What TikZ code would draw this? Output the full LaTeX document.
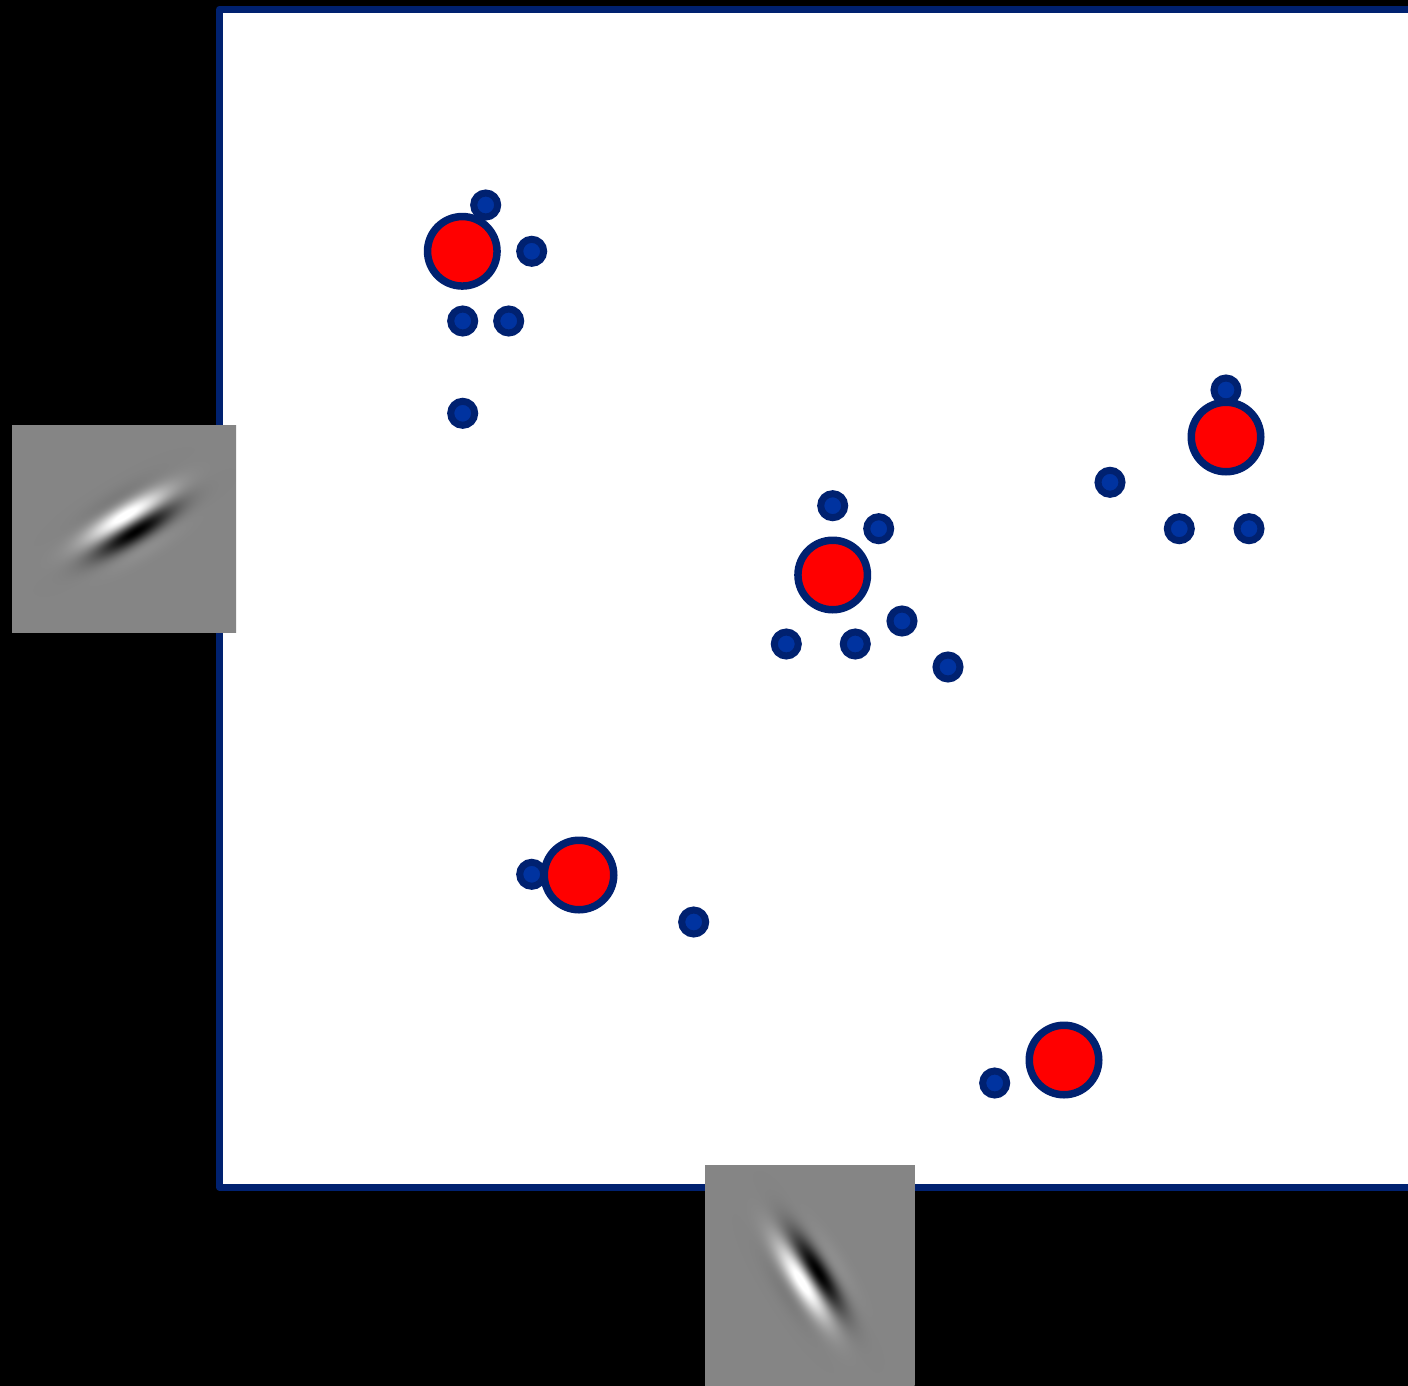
\documentclass[tikz,border=0pt]{standalone}
\usepackage{tikz}
\definecolor{navy}{RGB}{0,33,112}
\definecolor{dotblue}{RGB}{0,51,160}
\pgfdeclarefunctionalshading{gaborL}{\pgfpoint{-56.25pt}{-52.2pt}}{\pgfpoint{56.25pt}{52.2pt}}{}{
exch 3.2 sub exch 2.5 sub
2 copy 0.857 mul exch 0.515 mul sub
3 1 roll 0.515 mul exch 0.857 mul add
dup mul 480 div 1 index dup mul 95 div add neg 2.71828 exch exp
exch 14 mul sin mul 0.72 mul 0.52 add dup dup
}
\pgfdeclarefunctionalshading{gaborB}{\pgfpoint{-52.6pt}{-56.25pt}}{\pgfpoint{52.6pt}{56.25pt}}{}{
2 copy -0.530 mul exch 0.848 mul sub
3 1 roll 0.848 mul exch -0.530 mul add
dup mul 480 div 1 index dup mul 95 div add neg 2.71828 exch exp
exch 14 mul sin mul 0.72 mul 0.52 add dup dup
}
\tikzset{
  smalldot/.style={circle, draw=navy, fill=dotblue, line width=3.5pt, minimum size=12pt, inner sep=0pt},
  bigdot/.style={circle, draw=navy, fill=red, line width=3.75pt, minimum size=34.75pt, inner sep=0pt},
  patch/.style={inner sep=0pt, outer sep=0pt}
}
\begin{document}
\begin{tikzpicture}[x=0.5pt, y=-0.5pt]
\useasboundingbox (0,0) rectangle (1408,1386);
\fill[black] (0,0) rectangle (1408,1386);
\draw[navy, line width=3.65pt, fill=white, line join=round] (219.7,9.4) rectangle (1460,1187.2);
% small dots
\node[smalldot] (s1) at (485.7,205) {};
\node[smalldot] (s2) at (531.7,251.3) {};
\node[smalldot] (s3) at (462.7,321) {};
\node[smalldot] (s4) at (508.7,321) {};
\node[smalldot] (s5) at (462.7,413.3) {};
\node[smalldot] (s6) at (1226,390) {};
\node[smalldot] (s7) at (1110,482.3) {};
\node[smalldot] (s8) at (1179.3,528.7) {};
\node[smalldot] (s9) at (1249,528.7) {};
\node[smalldot] (s10) at (832.7,505.7) {};
\node[smalldot] (s11) at (878.7,528.7) {};
\node[smalldot] (s12) at (902,621) {};
\node[smalldot] (s13) at (786.3,644) {};
\node[smalldot] (s14) at (855.3,644) {};
\node[smalldot] (s15) at (948,667) {};
\node[smalldot] (s16) at (531.7,874.3) {};
\node[smalldot] (s17) at (693.7,922) {};
\node[smalldot] (s18) at (994.7,1083) {};
% big circles
\node[bigdot] (c1) at (462.3,251.3) {};
\node[bigdot] (c2) at (1226,437) {};
\node[bigdot] (c3) at (832.7,575) {};
\node[bigdot] (c4) at (579,875) {};
\node[bigdot] (c5) at (1064,1060) {};
% gabor patches
\node[patch] (gL) at (123.5,528.4) {\pgfuseshading{gaborL}};
\node[patch] (gB) at (809.5,1276.5) {\pgfuseshading{gaborB}};
\end{tikzpicture}
\end{document}
